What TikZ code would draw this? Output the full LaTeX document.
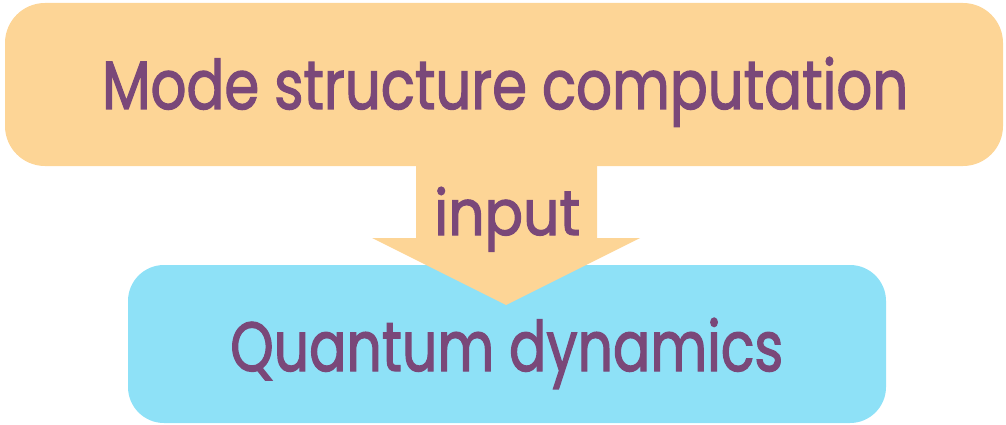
\documentclass[tikz,border=0pt]{standalone}
\usepackage{fontspec}
\setmainfont{Poppins}
\newfontfamily\heavy{Poppins}[BoldFont=Poppins, BoldFeatures={FakeBold=2}]
\usepackage{graphicx}
\definecolor{boxorange}{HTML}{FDD596}
\definecolor{boxblue}{HTML}{8EE1F7}
\definecolor{txtpurple}{HTML}{7A4879}
\begin{document}
\begin{tikzpicture}[x=1pt,y=-1pt,
  lbl/.style={inner sep=0pt,anchor=base west,text=txtpurple,font=\fontsize{60}{60}\heavy\bfseries}]
\useasboundingbox (0,0) rectangle (1006,425);
% bottom box
\fill[boxblue,rounded corners=36pt] (128,265) rectangle (886,423);
% top box
\fill[boxorange,rounded corners=40pt] (5,3) rectangle (1003,166);
% arrow
\fill[boxorange] (416,160) -- (597,160) -- (597,238) -- (640,238) -- (506,305) -- (372,238) -- (416,238) -- cycle;
\node[lbl] (top) at (102,109) {\resizebox{806pt}{52pt}{Mode structure computation}};
\node[lbl] (mid) at (434,235) {\resizebox{146pt}{48pt}{input}};
\node[lbl] (bot) at (230,371) {\resizebox{553pt}{53pt}{Quantum dynamics}};
\end{tikzpicture}
\end{document}
